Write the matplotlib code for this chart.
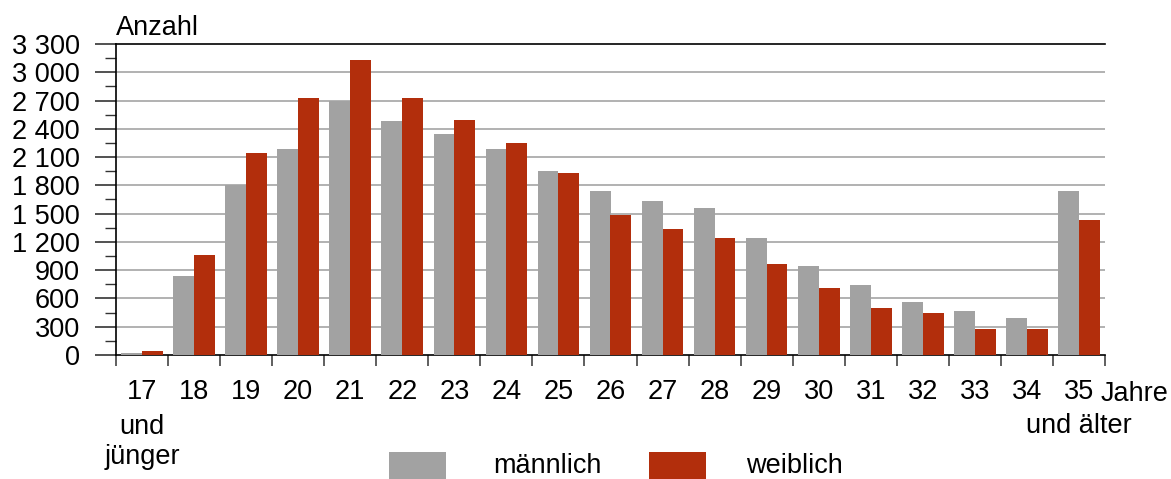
import matplotlib
matplotlib.use("Agg")
import matplotlib.pyplot as plt
import matplotlib.transforms as mtransforms
from matplotlib.patches import Rectangle
import numpy as np

categories = ["17", "18", "19", "20", "21", "22", "23", "24", "25", "26",
              "27", "28", "29", "30", "31", "32", "33", "34", "35"]
first_extra = ["und", "jünger"]
last_extra = "und älter"
maennlich = [25, 838, 1804, 2186, 2695, 2483, 2345, 2186, 1952, 1740,
             1634, 1560, 1241, 944, 743, 562, 467, 393, 1740]
weiblich = [40, 1061, 2143, 2727, 3130, 2727, 2494, 2250, 1931, 1486,
            1337, 1241, 966, 711, 499, 446, 276, 276, 1432]
yticks = list(range(0, 3301, 300))
ytick_labels = ["0", "300", "600", "900", "1 200", "1 500", "1 800", "2 100",
                "2 400", "2 700", "3 000", "3 300"]
series_names = ["männlich", "weiblich"]

GRAY = "#a2a2a2"
RED = "#b22e0c"
FS = 19.5
H = 479.0
W = 1171.0

plt.rcParams["font.family"] = ["Liberation Sans", "DejaVu Sans"]

fig = plt.figure(figsize=(11.71, 4.79), dpi=100)
ax = fig.add_axes([116/W, 1-355/H, (1105-116)/W, (355-44)/H])

x = np.arange(len(categories))
w = 0.4
ax.bar(x - w/2, maennlich, width=w, color=GRAY, zorder=3)
ax.bar(x + w/2, weiblich, width=w, color=RED, zorder=3)

ax.set_xlim(-0.5, len(categories) - 0.5)
ax.set_ylim(0, 3300)

# y axis
ax.set_yticks(yticks)
ax.set_yticklabels(ytick_labels, fontsize=FS)
ax.set_yticks(np.arange(150, 3300, 300), minor=True)
ax.tick_params(axis="y", which="major", length=15, width=1.2, color="#333333", pad=11)
ax.tick_params(axis="y", which="minor", length=8, width=1.0, color="#333333")
for yv in yticks[1:-1]:
    ax.axhline(yv, color="#ababab", linewidth=1.3, zorder=1)

# x axis
ax.set_xticks(x)
ax.set_xticklabels(categories, fontsize=FS)
ax.set_xticks(np.arange(-0.5, len(categories)), minor=True)
ax.tick_params(axis="x", which="major", length=0, pad=17)
ax.tick_params(axis="x", which="minor", length=8, width=1.2, color="#444444")

for s in ["left", "bottom", "top"]:
    ax.spines[s].set_color("black")
    ax.spines[s].set_linewidth(1.2)
ax.spines["right"].set_visible(False)

def fig_y(py):
    return 1 - py / H

blend = mtransforms.blended_transform_factory(ax.transData, fig.transFigure)
ax.text(x[0], fig_y(434), first_extra[0], transform=blend, fontsize=FS,
        ha="center", va="baseline")
ax.text(x[0], fig_y(464), first_extra[1], transform=blend, fontsize=FS,
        ha="center", va="baseline")
ax.text(x[-1], fig_y(433), last_extra, transform=blend, fontsize=FS,
        ha="center", va="baseline")

ax.text(0.0, fig_y(35), "Anzahl",
        transform=mtransforms.blended_transform_factory(ax.transAxes, fig.transFigure),
        fontsize=FS, ha="left", va="baseline")
fig.text(1101/W, fig_y(401), "Jahre", fontsize=FS, ha="left", va="baseline")

# legend (manual)
legend_items = [(389, 493, GRAY, series_names[0]), (649, 746, RED, series_names[1])]
for px, tx, col, name in legend_items:
    fig.patches.append(Rectangle((px/W, fig_y(479)), 57/W, 27/H, transform=fig.transFigure,
                                 facecolor=col, edgecolor="none"))
    fig.text(tx/W, fig_y(473), name, fontsize=FS, ha="left", va="baseline")

fig.savefig("out.png", dpi=100)
